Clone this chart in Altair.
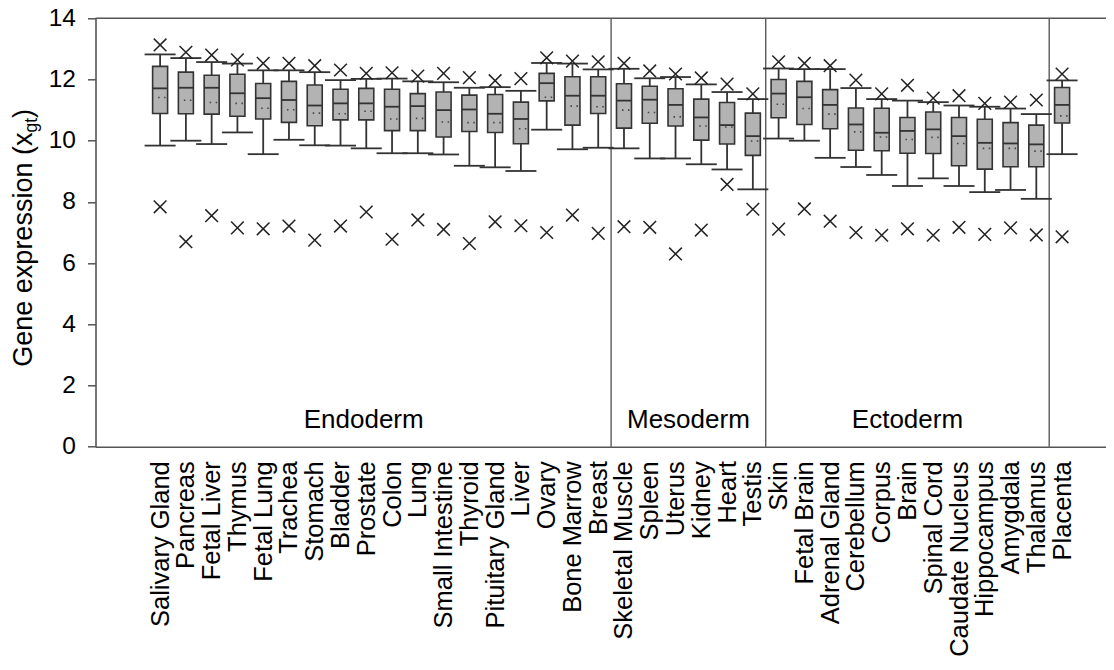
import json
import altair as alt
import pandas as pd

# ---------------- data ----------------
tissues = ["Salivary Gland", "Pancreas", "Fetal Liver", "Thymus", "Fetal Lung", "Trachea",
           "Stomach", "Bladder", "Prostate", "Colon", "Lung", "Small Intestine", "Thyroid",
           "Pituitary Gland", "Liver", "Ovary", "Bone Marrow", "Breast",
           "Skeletal Muscle", "Spleen", "Uterus", "Kidney", "Heart", "Testis",
           "Skin", "Fetal Brain", "Adrenal Gland", "Cerebellum", "Corpus", "Brain",
           "Spinal Cord", "Caudate Nucleus", "Hippocampus", "Amygdala", "Thalamus",
           "Placenta"]

x_max = [13.13, 12.89, 12.80, 12.64, 12.53, 12.53, 12.45, 12.31, 12.20,
         12.22, 12.11, 12.20, 12.06, 11.96, 12.03, 12.71, 12.60, 12.58,
         12.53, 12.28, 12.18, 12.05, 11.85, 11.53,
         12.58, 12.53, 12.45, 11.98, 11.53, 11.81, 11.39, 11.47, 11.22, 11.26, 11.33,
         12.18]
whisker_hi = [12.82, 12.70, 12.57, 12.52, 12.30, 12.30, 12.24, 11.98, 12.02,
              12.03, 11.94, 11.91, 11.73, 11.75, 11.63, 12.54, 12.52, 12.33,
              12.35, 12.04, 12.08, 11.84, 11.59, 11.36,
              12.36, 12.34, 12.34, 11.72, 11.36, 11.31, 11.26, 11.15, 11.11, 11.05, 10.87,
              11.97]
q3 = [12.43, 12.24, 12.14, 12.17, 11.87, 11.94, 11.82, 11.68, 11.71,
      11.68, 11.54, 11.59, 11.49, 11.51, 11.26, 12.20, 12.09, 12.09,
      11.86, 11.78, 11.70, 11.36, 11.25, 10.90,
      12.00, 11.94, 11.67, 11.07, 11.06, 10.76, 10.94, 10.76, 10.70, 10.59, 10.51,
      11.74]
median = [11.71, 11.73, 11.73, 11.55, 11.39, 11.33, 11.15, 11.22, 11.22,
          11.11, 11.13, 11.00, 11.02, 10.88, 10.71, 11.88, 11.47, 11.47,
          11.31, 11.34, 11.17, 10.76, 10.51, 10.15,
          11.54, 11.42, 11.17, 10.53, 10.26, 10.32, 10.37, 10.15, 9.93, 9.91, 9.88,
          11.17]
mean = [11.41, 11.32, 11.25, 11.22, 11.06, 11.01, 10.90, 10.88, 10.96,
        10.71, 10.73, 10.61, 10.59, 10.59, 10.39, 11.42, 11.13, 11.11,
        11.00, 10.92, 10.78, 10.48, 10.45, 9.99,
        11.19, 11.05, 10.87, 10.29, 10.12, 10.04, 10.11, 9.91, 9.75, 9.75, 9.66,
        10.81]
q1 = [10.89, 10.88, 10.87, 10.80, 10.71, 10.60, 10.49, 10.68, 10.68,
      10.33, 10.33, 10.12, 10.30, 10.27, 9.90, 11.30, 10.51, 10.89,
      10.41, 10.57, 10.48, 10.02, 9.89, 9.52,
      10.75, 10.53, 10.39, 9.69, 9.67, 9.59, 9.58, 9.18, 9.07, 9.15, 9.15,
      10.58]
whisker_lo = [9.84, 10.00, 9.89, 10.27, 9.56, 10.03, 9.85, 9.84, 9.75,
              9.59, 9.59, 9.55, 9.18, 9.13, 9.01, 10.36, 9.72, 9.77,
              9.75, 9.42, 9.42, 9.23, 9.06, 8.41,
              10.07, 10.00, 9.44, 9.14, 8.88, 8.52, 8.77, 8.52, 8.32, 8.39, 8.10,
              9.56]
x_min = [7.84, 6.70, 7.55, 7.15, 7.12, 7.21, 6.75, 7.21, 7.67,
         6.78, 7.41, 7.10, 6.64, 7.35, 7.22, 7.00, 7.57, 6.97,
         7.19, 7.17, 6.30, 7.08, 8.57, 7.76,
         7.11, 7.77, 7.37, 7.00, 6.91, 7.12, 6.91, 7.17, 6.94, 7.15, 6.92,
         6.86]

groups = ["Endoderm", "Mesoderm", "Ectoderm"]
group_sizes = [18, 6, 11, 1]          # last one: Placenta (unlabelled)
group_label_at = [7.9, 20.5, 29.0]    # tissue-index position of each group label
group_label_y = [0.62, 0.62, 0.62]

y_ticks = [0, 2, 4, 6, 8, 10, 12, 14]

# ---------------- tables ----------------
df = pd.DataFrame({
    "pos": list(range(len(tissues))), "tissue": tissues,
    "xmax": x_max, "hi": whisker_hi, "q3": q3, "median": median,
    "mean": mean, "q1": q1, "lo": whisker_lo, "xmin": x_min,
})
bounds = []
acc = 0
for s in group_sizes[:-1]:
    acc += s
    bounds.append(acc - 0.5)
sep_df = pd.DataFrame({"pos": bounds})
grp_df = pd.DataFrame({"pos": group_label_at, "y": group_label_y, "name": groups})
top_df = pd.DataFrame({"y": [max(y_ticks)]})

# ---------------- styling ----------------
FONT = "Liberation Sans"
DARK = "#333333"
AXC = "#555555"
FILL = "#b3b3b3"
PAD_TOP = 10.3
W, H = 1010.5, 446.7 - 8 - PAD_TOP

label_expr = json.dumps(tissues) + "[datum.value]"
x_scale = alt.Scale(domain=[-2.313, 36.51], nice=False, zero=False)
y_scale = alt.Scale(domain=[0, 14], nice=False, zero=True)

x_axis = alt.Axis(values=list(range(len(tissues))), labelExpr=label_expr, labelAngle=270,
                  ticks=False, tickSize=0, labelPadding=14, labelFontSize=25.5,
                  labelFont=FONT, labelColor="black", labelOverlap=False, labelFlush=False,
                  labelBound=False, domainColor=AXC, domainWidth=1.6, grid=False, title=None,
                  labelLimit=400)
y_axis = alt.Axis(values=y_ticks, tickSize=8, tickColor=AXC, tickWidth=1.5,
                  domainColor=AXC, domainWidth=1.6, labelFontSize=24.5, labelFont=FONT,
                  labelColor="black", labelPadding=12, grid=False, title=None)

X = alt.X("pos:Q", scale=x_scale, axis=x_axis, title=None)


def Y(field):
    return alt.Y(f"{field}:Q", scale=y_scale, axis=y_axis, title=None)


base = alt.Chart(df)

separators = alt.Chart(sep_df).mark_rule(color="#5a5a5a", strokeWidth=1.4).encode(x=X)
top_line = alt.Chart(top_df).mark_rule(color=AXC, strokeWidth=1.6).encode(
    y=Y("y"), x=alt.value(0), x2=alt.value(W))

whisker = base.mark_rule(color=DARK, strokeWidth=1.8).encode(x=X, y=Y("lo"), y2="hi:Q")
cap_lo = base.mark_rule(color=DARK, strokeWidth=1.8, xOffset=-15.5, x2Offset=15.5).encode(
    x=X, x2="pos:Q", y=Y("lo"))
cap_hi = base.mark_rule(color=DARK, strokeWidth=1.8, xOffset=-15.5, x2Offset=15.5).encode(
    x=X, x2="pos:Q", y=Y("hi"))
box = base.mark_bar(size=15, color=FILL, stroke=DARK, strokeWidth=1.6, opacity=1).encode(
    x=X, y=Y("q1"), y2="q3:Q")
med = base.mark_rule(color=DARK, strokeWidth=1.8, xOffset=-7.5, x2Offset=7.5).encode(
    x=X, x2="pos:Q", y=Y("median"))
mean_l = base.mark_rule(color="#444444", strokeWidth=1.6, xOffset=-2, x2Offset=5.5,
                        strokeDash=[1.5, 4.5]).encode(x=X, x2="pos:Q", y=Y("mean"))

XPATH = "M-1,-1L1,1M-1,1L1,-1"
pmax = base.mark_point(shape=XPATH, size=160, filled=False, stroke="#222222",
                       strokeWidth=1.5, opacity=1).encode(x=X, y=Y("xmax"))
pmin = base.mark_point(shape=XPATH, size=160, filled=False, stroke="#222222",
                       strokeWidth=1.5, opacity=1).encode(x=X, y=Y("xmin"))

glabels = alt.Chart(grp_df).mark_text(font=FONT, fontSize=26, align="center",
                                      baseline="alphabetic", color="black").encode(
    x=X, y=Y("y"), text="name:N")

# y-axis title with subscript, built from text pieces
F = 27.0
FS = 0.65 * F
tx, ty = -63.8, 366.7 - 8 - PAD_TOP
main_w = 8.67 * F
sub_w = 0.834 * FS
t1 = alt.Chart(pd.DataFrame({"t": ["Gene expression (x"]})).mark_text(
    font=FONT, fontSize=F, angle=270, align="left", baseline="alphabetic", color="black",
    x=tx, y=ty).encode(text="t:N")
t2 = alt.Chart(pd.DataFrame({"t": ["gt"]})).mark_text(
    font=FONT, fontSize=FS, angle=270, align="left", baseline="alphabetic", color="black",
    x=tx + 5.5, y=ty - main_w).encode(text="t:N")
t3 = alt.Chart(pd.DataFrame({"t": [")"]})).mark_text(
    font=FONT, fontSize=F, angle=270, align="left", baseline="alphabetic", color="black",
    x=tx, y=ty - main_w - sub_w).encode(text="t:N")

chart = alt.layer(
    separators, top_line, whisker, cap_lo, cap_hi, box, med, mean_l, pmax, pmin,
    glabels, t1, t2, t3
).properties(
    width=W, height=H,
    padding={"left": 87.5, "top": PAD_TOP, "right": 0, "bottom": 215.3},
    autosize=alt.AutoSizeParams(type="none"),
).configure_view(stroke=None)

chart.save("out.html", embed_options={"renderer": "svg", "actions": False})
